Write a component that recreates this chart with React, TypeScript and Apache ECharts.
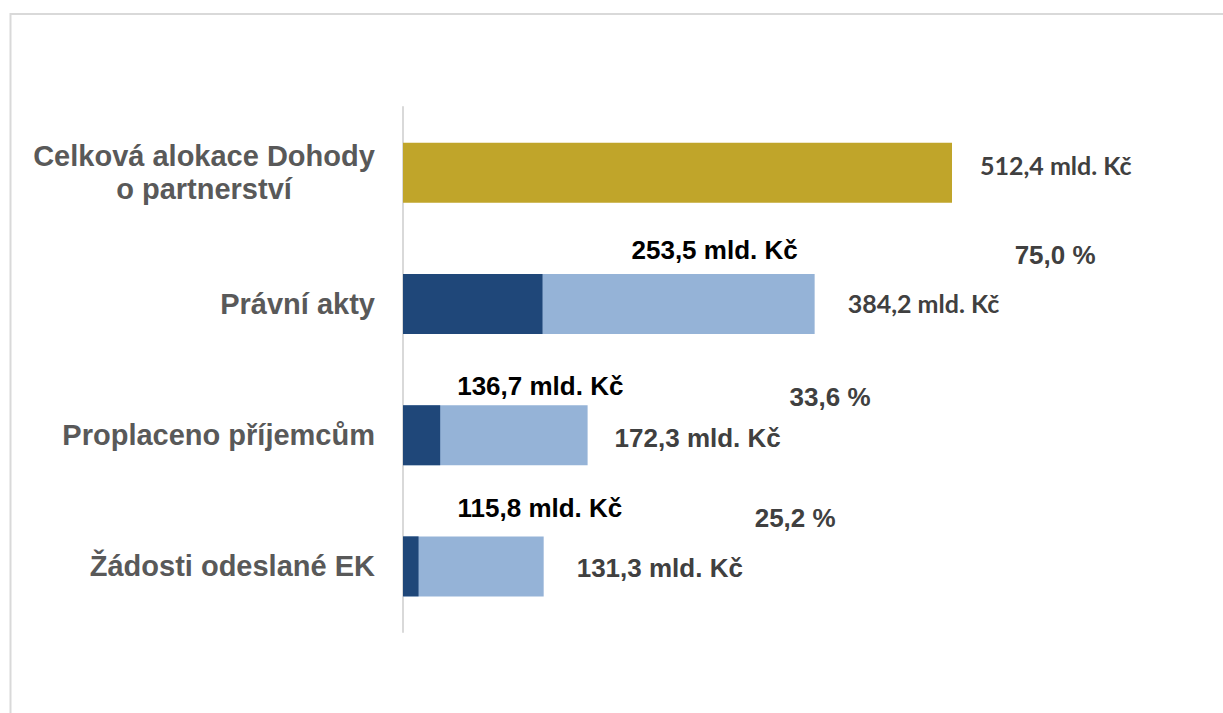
import React, { useEffect, useRef } from "react";
import * as echarts from "echarts";

// ---- data ----
const categories = [
  "Celková alokace Dohody\no partnerství",
  "Právní akty",
  "Proplaceno příjemcům",
  "Žádosti odeslané EK",
];
const totalValues = [512.4, 384.2, 172.3, 131.3];
const darkValues: (number | null)[] = [null, 130.2, 34.7, 14.5];
const totalLabels = ["512,4 mld. Kč", "384,2 mld. Kč", "172,3 mld. Kč", "131,3 mld. Kč"];
const amountLabels = ["", "253,5 mld. Kč", "136,7 mld. Kč", "115,8 mld. Kč"];
const shareLabels = ["", "75,0 %", "33,6 %", "25,2 %"];

// ---- styles ----
const GOLD = "#C0A52A";
const DARK = "#1F4779";
const LIGHT = "#95B3D7";
const ARIAL = "'Liberation Sans', Arial, sans-serif";
const CALIBRI = "Lato, 'Open Sans', sans-serif";
const totalLabelOffsets = [[28, -8], [33, -1], [27, 3], [33, 2]];
const totalLabelFonts = [CALIBRI, CALIBRI, ARIAL, ARIAL];
const totalLabelSizes = [25, 25, 26, 26];
const amountLabelOffsets = [[0, 0], [89, -54], [17, -49], [39, -58]];
const shareLabelOffsets = [[0, 0], [200, -49], [202, -38], [211, -48]];

export default function App() {
  const ref = useRef<HTMLDivElement>(null);
  useEffect(() => {
    if (!ref.current) return;
    const chart = echarts.init(ref.current, null, { renderer: "svg" });
    const option = {
      animation: false,
      backgroundColor: "#ffffff",
      graphic: [
        {
          type: "rect",
          shape: { x: 10.5, y: 14, width: 1400, height: 900 },
          style: { fill: "none", stroke: "#d9d9d9", lineWidth: 2 },
          silent: true,
          z: -1,
        },
      ],
      grid: { left: 403, right: 70, top: 107, bottom: 81 },
      xAxis: {
        type: "value",
        min: 0,
        max: 700,
        show: false,
      },
      yAxis: {
        type: "category",
        inverse: true,
        data: categories.map((c, i) =>
          i === 0
            ? {
                value: c,
                textStyle: {
                  align: "center",
                  padding: [0, 342, 0, 0],
                  lineHeight: 33,
                },
              }
            : c
        ),
        axisLine: { show: true, lineStyle: { color: "#d9d9d9", width: 2 } },
        axisTick: { show: false },
        splitLine: { show: false },
        axisLabel: {
          margin: 28,
          fontSize: 29,
          fontWeight: "bold",
          color: "#595959",
          fontFamily: ARIAL,
        },
      },
      series: [
        {
          type: "bar",
          name: "celkem",
          barWidth: 60,
          barGap: "-100%",
          itemStyle: { color: LIGHT },
          data: totalValues.map((v, i) => ({
            value: v,
            itemStyle: i === 0 ? { color: GOLD } : undefined,
            label: {
              show: true,
              position: "right",
              distance: 0,
              offset: totalLabelOffsets[i],
              formatter: totalLabels[i],
              fontFamily: totalLabelFonts[i],
              fontSize: totalLabelSizes[i],
              fontWeight: "bold",
              color: "#404040",
            },
          })),
        },
        {
          type: "bar",
          name: "proplaceno",
          barWidth: 60,
          barGap: "-100%",
          itemStyle: { color: DARK },
          data: darkValues.map((v, i) => ({
            value: v === null ? "-" : v,
            label: {
              show: amountLabels[i] !== "",
              position: "right",
              distance: 0,
              offset: amountLabelOffsets[i],
              formatter: amountLabels[i],
              fontFamily: ARIAL,
              fontSize: 26,
              fontWeight: "bold",
              color: "#000000",
            },
          })),
        },
        {
          type: "bar",
          name: "podil",
          barWidth: 60,
          barGap: "-100%",
          silent: true,
          itemStyle: { color: "rgba(0,0,0,0)" },
          data: totalValues.map((v, i) => ({
            value: v,
            label: {
              show: shareLabels[i] !== "",
              position: "right",
              distance: 0,
              offset: shareLabelOffsets[i],
              formatter: shareLabels[i],
              fontFamily: ARIAL,
              fontSize: 26,
              fontWeight: "bold",
              color: "#404040",
            },
          })),
        },
      ],
    };
    chart.setOption(option as any);
    return () => chart.dispose();
  }, []);
  return (
    <div
      ref={ref}
      style={{ position: "fixed", left: 0, top: 0, width: 1223, height: 713, background: "#fff" }}
    />
  );
}
